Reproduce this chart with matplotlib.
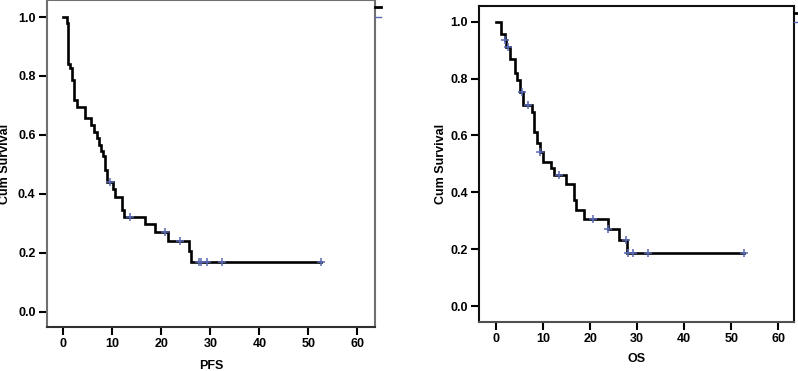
import matplotlib
matplotlib.use("Agg")
import matplotlib.pyplot as plt
import numpy as np
from matplotlib.lines import Line2D

plt.rcParams['font.family'] = ['Liberation Sans', 'DejaVu Sans']
plt.rcParams['font.weight'] = 'bold'

# PFS curve (step times, survival after each step, censored times)
pfs_times = [0, 0.7, 1.0, 1.36, 1.7, 2.2, 2.85, 4.4, 5.6, 6.3, 6.8, 7.3, 7.6, 8.1, 8.5,
             9.0, 10.2, 10.6, 11.9, 12.4, 16.7, 18.8, 21.4, 25.6, 26.1]
pfs_surv = [1.0, 0.98, 0.84, 0.827, 0.787, 0.72, 0.696, 0.657, 0.634, 0.61, 0.59, 0.566,
            0.544, 0.527, 0.48, 0.44, 0.418, 0.39, 0.345, 0.323, 0.298, 0.27, 0.241, 0.207, 0.17]
pfs_cens = [9.6, 13.6, 20.8, 23.9, 27.6, 28.0, 29.3, 32.4, 52.5]

# OS curve
os_times = [0, 1.0, 1.9, 2.2, 3.0, 4.0, 4.4, 5.1, 5.8, 7.6, 8.15, 8.65, 9.35, 10.05,
            11.7, 12.3, 14.9, 16.6, 17.0, 18.8, 23.7, 26.1, 27.8]
os_surv = [1.0, 0.957, 0.936, 0.912, 0.868, 0.818, 0.795, 0.754, 0.707, 0.683, 0.613,
           0.572, 0.543, 0.508, 0.484, 0.461, 0.428, 0.373, 0.338, 0.306, 0.271, 0.232, 0.188]
os_cens = [1.9, 2.6, 5.6, 6.9, 9.4, 13.4, 20.7, 23.8, 27.6, 28.0, 29.2, 32.2, 52.8]

xticks = [0, 10, 20, 30, 40, 50, 60]
yticks = [0.0, 0.2, 0.4, 0.6, 0.8, 1.0]

fig = plt.figure(figsize=(7.98, 3.71), dpi=100)

# axes boxes in figure fractions
ax1 = fig.add_axes([0.0585, 0.1194, 0.4115, 0.8800])
ax2 = fig.add_axes([0.6006, 0.1329, 0.3948, 0.8509])


def km_plot(ax, times, surv, cens, xlabel, xlim, ylim, left_col, bot_col, top_col,
            xlab_pos, ylab_pos):
    t = list(times) + [max(cens)]
    s = list(surv) + [surv[-1]]
    ax.step(t, s, where='post', color='black', lw=1.9, solid_joinstyle='miter')
    idx = np.searchsorted(times, cens, side='right') - 1
    cy = np.array(surv)[idx]
    ax.plot(cens, cy, linestyle='none', marker='+', color='#5868b0',
            markersize=6, mew=1.1)
    ax.set_xlim(*xlim)
    ax.set_ylim(*ylim)
    ax.set_xticks(xticks)
    ax.set_yticks(yticks)
    ax.set_yticklabels([f"{v:.1f}" for v in yticks])
    ax.tick_params(axis='both', direction='out', length=6, width=1.5,
                   labelsize=9, colors='black', pad=2)
    ax.spines['left'].set_color(left_col)
    ax.spines['bottom'].set_color(bot_col)
    ax.spines['top'].set_color(top_col)
    ax.spines['right'].set_color(top_col)
    for sp in ax.spines.values():
        sp.set_linewidth(1.5)
    ax.set_xlabel(xlabel, fontsize=9, fontweight='bold')
    ax.set_ylabel('Cum Survival', fontsize=9, fontweight='bold')
    ax.xaxis.set_label_coords(0.5, xlab_pos)
    ax.yaxis.set_label_coords(ylab_pos, 0.5)


km_plot(ax1, pfs_times, pfs_surv, pfs_cens, 'PFS', (-3.4, 63.6), (-0.051, 1.057),
        '#707070', '#303030', '#707070', -0.102, -0.108)
km_plot(ax2, os_times, os_surv, os_cens, 'OS', (-3.55, 63.4), (-0.055, 1.055),
        '#101010', '#505050', '#101010', -0.100, -0.1025)

# cropped legend fragments at the top right of each panel
W, H = 798, 371
for x0, x1, yb, yl in [(375, 381, 7.3, 17.3), (794, 798, 13.3, 21.7)]:
    fig.add_artist(Line2D([x0 / W, x1 / W], [1 - yb / H, 1 - yb / H],
                          color='black', lw=2.0, transform=fig.transFigure))
    fig.add_artist(Line2D([x0 / W, x1 / W], [1 - yl / H, 1 - yl / H],
                          color='#5868b0', lw=1.0, transform=fig.transFigure))

fig.savefig('out.png', dpi=100)
